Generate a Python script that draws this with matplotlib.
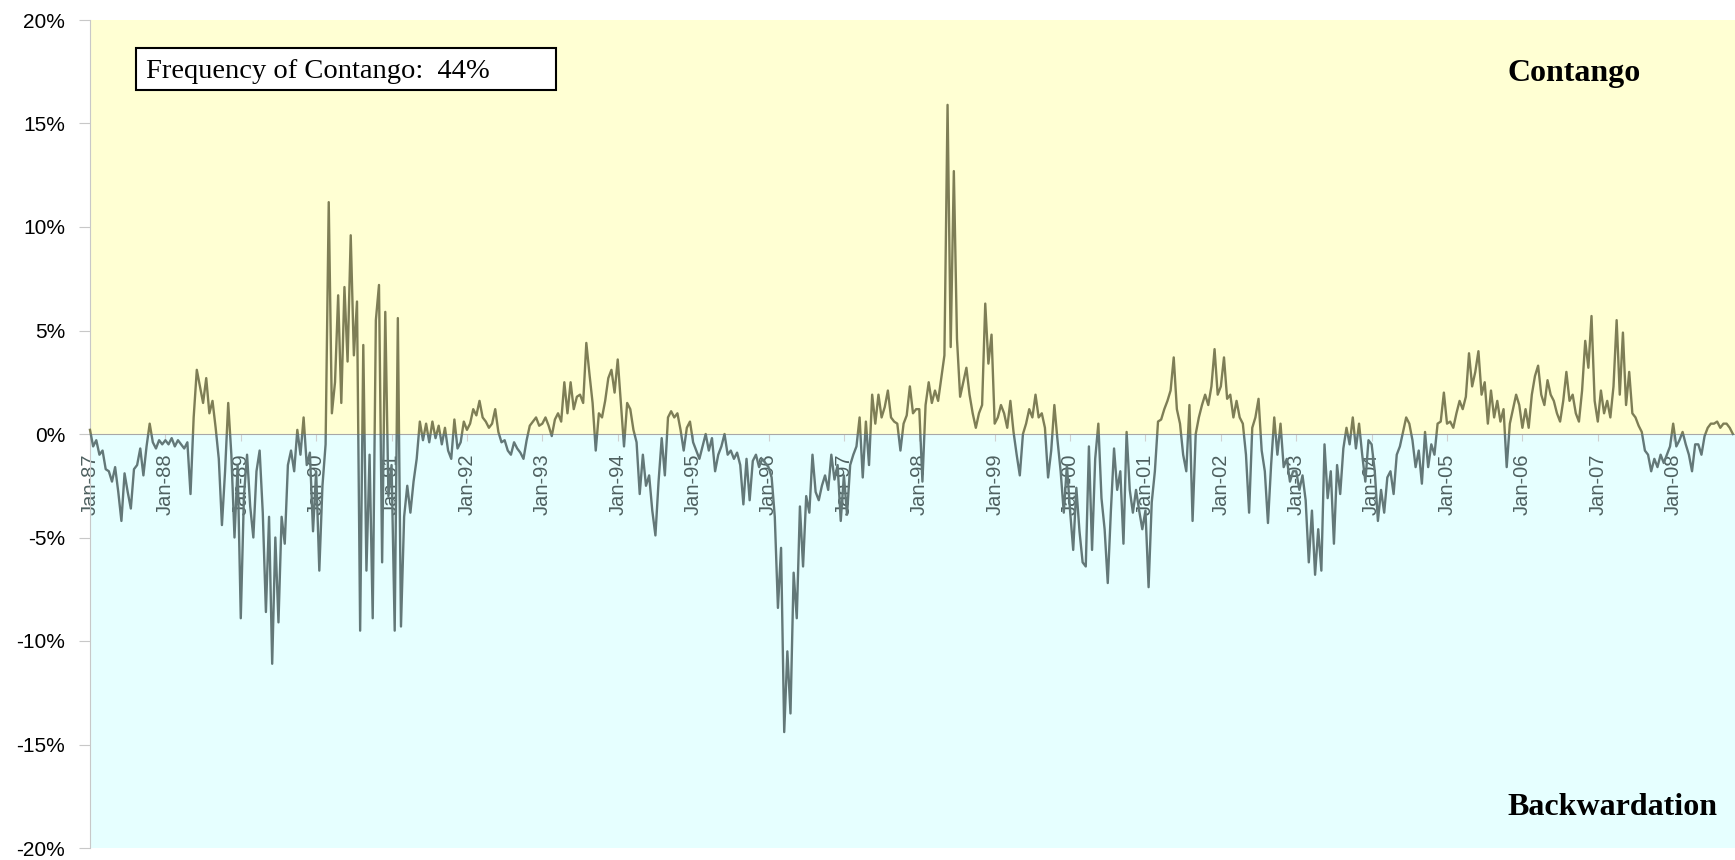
import numpy as np
import matplotlib.pyplot as plt
from matplotlib.patches import Rectangle

plt.rcParams['font.family'] = ['Liberation Sans', 'DejaVu Sans']

# contango (+) / backwardation (-) spread in %, two readings per month
y1987 = [0.2, -0.6, -0.3, -1.0, -0.8, -1.7, -1.8, -2.3, -1.6, -2.8, -4.2, -1.9,
         -2.8, -3.6, -1.7, -1.5, -0.7, -2.0, -0.6, 0.5, -0.4, -0.7, -0.3, -0.5]
y1988 = [-0.3, -0.5, -0.2, -0.6, -0.3, -0.5, -0.7, -0.4, -2.9, 0.8, 3.1, 2.3,
         1.5, 2.7, 1.0, 1.6, 0.3, -1.2, -4.4, -1.8, 1.5, -1.0, -5.0, -1.5]
y1989 = [-8.9, -3.0, -1.0, -3.5, -5.0, -1.8, -0.8, -3.8, -8.6, -4.0, -11.1, -5.0,
         -9.1, -4.0, -5.3, -1.5, -0.8, -1.8, 0.2, -1.0, 0.8, -1.5, -0.9, -4.7]
y1990 = [-1.8, -6.6, -2.5, -0.5, 11.2, 1.0, 2.5, 6.7, 1.5, 7.1, 3.5, 9.6,
         3.8, 6.4, -9.5, 4.3, -6.6, -1.0, -8.9, 5.5, 7.2, -6.2, 5.9, -3.0]
y1991 = [-1.5, -9.5, 5.6, -9.3, -4.0, -2.5, -3.8, -2.3, -1.2, 0.6, -0.3, 0.5,
         -0.4, 0.6, -0.2, 0.4, -0.5, 0.3, -0.8, -1.2, 0.7, -0.7, -0.4, 0.6]
y1992 = [0.2, 0.5, 1.2, 0.9, 1.6, 0.8, 0.6, 0.3, 0.5, 1.2, 0.1, -0.4,
         -0.3, -0.8, -1.0, -0.4, -0.7, -0.9, -1.2, -0.3, 0.4, 0.6, 0.8, 0.4]
y1993 = [0.5, 0.8, 0.4, -0.1, 0.7, 1.0, 0.6, 2.5, 1.0, 2.5, 1.2, 1.8,
         1.9, 1.5, 4.4, 2.9, 1.5, -0.8, 1.0, 0.8, 1.6, 2.7, 3.1, 2.0]
y1994 = [3.6, 1.5, -0.6, 1.5, 1.2, 0.2, -0.4, -2.9, -1.0, -2.5, -2.0, -3.7,
         -4.9, -2.3, -0.2, -2.0, 0.8, 1.1, 0.8, 1.0, 0.2, -0.8, 0.3, 0.6]
y1995 = [-0.4, -0.8, -1.2, -0.6, 0.0, -0.8, -0.2, -1.8, -1.0, -0.6, 0.0, -1.0,
         -0.8, -1.2, -0.9, -1.5, -3.4, -1.2, -3.2, -1.3, -1.0, -1.6, -1.2, -1.4]
y1996 = [-1.6, -2.1, -4.0, -8.4, -5.5, -14.4, -10.5, -13.5, -6.7, -8.9, -3.5, -6.4,
         -3.0, -3.8, -1.0, -2.8, -3.2, -2.5, -2.0, -2.7, -1.0, -2.2, -1.5, -4.2]
y1997 = [-2.0, -3.9, -1.5, -1.0, -0.6, 0.8, -2.1, 0.6, -1.5, 1.9, 0.5, 1.9,
         0.8, 1.3, 2.1, 0.8, 0.6, 0.5, -0.8, 0.5, 0.9, 2.3, 1.0, 1.2]
y1998 = [1.2, -2.3, 1.4, 2.5, 1.5, 2.1, 1.6, 2.7, 3.8, 15.9, 4.2, 12.7,
         4.6, 1.8, 2.5, 3.2, 1.9, 1.0, 0.3, 1.0, 1.4, 6.3, 3.4, 4.8]
y1999 = [0.5, 0.8, 1.4, 1.0, 0.3, 1.6, 0.1, -1.0, -2.0, 0.0, 0.5, 1.2,
         0.8, 1.9, 0.8, 1.0, 0.3, -2.1, -0.8, 1.4, -0.3, -1.8, -3.8, -1.5]
y2000 = [-3.7, -5.6, -2.6, -4.7, -6.2, -6.4, -0.6, -5.6, -1.2, 0.5, -3.1, -4.6,
         -7.2, -3.7, -0.7, -2.7, -1.8, -5.3, 0.1, -2.7, -3.8, -2.7, -3.7, -4.6]
y2001 = [-3.7, -7.4, -3.3, -1.8, 0.6, 0.7, 1.2, 1.6, 2.1, 3.7, 1.2, 0.5,
         -1.0, -1.8, 1.4, -4.2, 0.0, 0.8, 1.4, 1.9, 1.4, 2.3, 4.1, 1.9]
y2002 = [2.3, 3.7, 1.7, 1.9, 0.8, 1.6, 0.8, 0.5, -1.0, -3.8, 0.3, 0.8,
         1.7, -0.8, -1.8, -4.3, -1.5, 0.8, -1.0, 0.5, -1.6, -1.2, -2.3, -1.8]
y2003 = [-1.8, -2.7, -2.0, -3.2, -6.2, -3.7, -6.8, -4.6, -6.6, -0.5, -3.1, -1.8,
         -5.3, -1.5, -2.9, -0.7, 0.3, -0.5, 0.8, -0.7, 0.5, -1.0, -2.3, -0.3]
y2004 = [-0.5, -1.8, -4.2, -2.7, -3.8, -2.1, -1.8, -2.9, -1.0, -0.6, 0.1, 0.8,
         0.5, -0.3, -1.6, -0.8, -2.4, 0.1, -1.6, -0.5, -1.0, 0.5, 0.6, 2.0]
y2005 = [0.5, 0.6, 0.3, 1.0, 1.6, 1.2, 1.8, 3.9, 2.3, 3.0, 4.0, 1.9,
         2.5, 0.5, 2.1, 0.8, 1.6, 0.6, 1.2, -1.6, 0.5, 1.2, 1.9, 1.4]
y2006 = [0.3, 1.2, 0.3, 1.9, 2.8, 3.3, 1.9, 1.4, 2.6, 1.9, 1.6, 1.0,
         0.6, 1.6, 3.0, 1.6, 1.9, 1.0, 0.6, 2.1, 4.5, 3.2, 5.7, 1.6]
y2007 = [0.6, 2.1, 1.0, 1.6, 0.8, 2.3, 5.5, 1.9, 4.9, 1.4, 3.0, 1.0,
         0.8, 0.4, 0.1, -0.8, -1.0, -1.8, -1.2, -1.6, -1.0, -1.4, -1.0, -0.6]
y2008 = [0.5, -0.6, -0.3, 0.1, -0.5, -1.0, -1.8, -0.5, -0.5, -1.0, -0.1, 0.3,
         0.5, 0.5, 0.6, 0.3, 0.5, 0.5, 0.3, 0.0]

years = list(range(1987, 2009))
by_year = [y1987, y1988, y1989, y1990, y1991, y1992, y1993, y1994, y1995, y1996, y1997,
           y1998, y1999, y2000, y2001, y2002, y2003, y2004, y2005, y2006, y2007, y2008]
tick_labels = ["Jan-%02d" % (y % 100) for y in years]
freq_text = "Frequency of Contango:  44%"

t = np.concatenate([yr + np.arange(len(v)) / 24.0 for yr, v in zip(years, by_year)])
vals = np.concatenate(by_year)

W, H = 1735, 860
fig = plt.figure(figsize=(W / 100, H / 100), dpi=100)
ax = fig.add_axes([90 / W, 12 / H, 1 - 90 / W, 828 / H])
ax.set_xlim(1987, 2008.82)
ax.set_ylim(-20, 20)

ax.axhspan(0, 20, color="#FFFFD3", zorder=0, lw=0)
ax.axhspan(-20, 0, color="#E6FFFF", zorder=0, lw=0)

up, = ax.plot(t, vals, color="#7e7e56", lw=1.7, zorder=3)
up.set_clip_path(Rectangle((1980, 0), 40, 25, transform=ax.transData))
dn, = ax.plot(t, vals, color="#637878", lw=1.7, zorder=3)
dn.set_clip_path(Rectangle((1980, -25), 40, 25, transform=ax.transData))

for s in ["top", "right"]:
    ax.spines[s].set_visible(False)
ax.spines["bottom"].set_position(("data", 0))
ax.spines["bottom"].set_color("#a8a8a8")
ax.spines["left"].set_color("#c8c8c8")

ax.set_xticks(years)
ax.set_xticklabels(tick_labels, rotation=90, fontsize=14.5, color="#4e6060")
ax.tick_params(axis="x", length=5, color="#d0d0d0", pad=9)
ax.set_yticks(np.arange(-20, 21, 5))
ax.set_yticklabels(["%d%%" % v for v in np.arange(-20, 21, 5)], fontsize=15)
ax.tick_params(axis="y", length=8, color="#c8c8c8", pad=10)

fig.patches.append(Rectangle((136 / W, 1 - 90 / H), 420 / W, 42 / H, transform=fig.transFigure,
                             fc="white", ec="black", lw=1.5, zorder=5))
fig.text(146 / W, 1 - 78 / H, freq_text, family="Liberation Serif", fontsize=20.5,
         va="baseline", zorder=6)
fig.text(1507 / W, 1 - 81 / H, "Contango", family="Liberation Serif", fontsize=23,
         weight="bold", va="baseline")
fig.text(1507 / W, 1 - 815 / H, "Backwardation", family="Liberation Serif", fontsize=23,
         weight="bold", va="baseline")

fig.savefig("out.png", dpi=100)
